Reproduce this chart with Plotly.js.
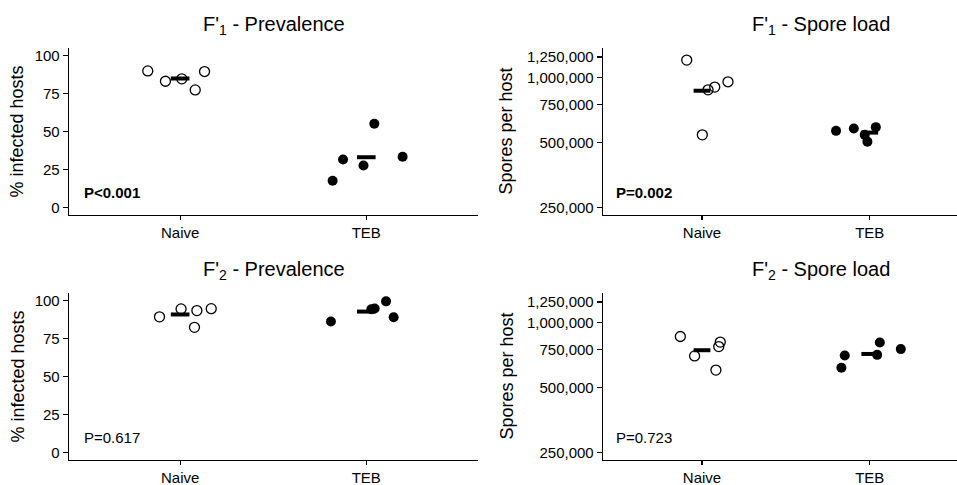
<!DOCTYPE html>
<html>
<head>
<meta charset="utf-8">
<script src="https://cdn.plot.ly/plotly-3.0.1.min.js"></script>
<style>html,body{margin:0;padding:0;background:#fff;}#chart{width:957px;height:485px;}</style>
</head>
<body>
<div id="chart"></div>
<script>
// ---- data ----
var categories = ["Naive", "TEB"];

var f1PrevNaive = [89.9, 83.1, 84.7, 77.4, 89.5];
var f1PrevTEB   = [17.6, 31.6, 27.6, 55.1, 33.4];
var f1SporeNaive = [1210000, 543000, 880000, 906000, 959000];
var f1SporeTEB   = [567000, 581000, 543000, 505000, 590000];
var f2PrevNaive = [89.3, 94.5, 93.4, 82.4, 94.7];
var f2PrevTEB   = [86.2, 94.3, 94.8, 99.5, 89.0];
var f2SporeNaive = [864000, 702000, 603000, 776000, 814000];
var f2SporeTEB   = [618000, 705000, 710000, 810000, 755000];

// horizontal jitter of each point (category units)
var jitF1PrevNaive = [-0.174, -0.079, 0.009, 0.081, 0.131];
var jitF1PrevTEB   = [-0.181, -0.125, -0.015, 0.043, 0.195];
var jitF1SporeNaive = [-0.091, 0.002, 0.036, 0.076, 0.155];
var jitF1SporeTEB   = [-0.201, -0.095, -0.030, -0.014, 0.036];
var jitF2PrevNaive = [-0.111, 0.005, 0.090, 0.077, 0.167];
var jitF2PrevTEB   = [-0.190, 0.027, 0.045, 0.106, 0.147];
var jitF2SporeNaive = [-0.129, -0.044, 0.083, 0.100, 0.109];
var jitF2SporeTEB   = [-0.169, -0.149, 0.044, 0.060, 0.185];

var panelTitles = ["F'<sub>1</sub> - Prevalence", "F'<sub>1</sub> - Spore load",
                   "F'<sub>2</sub> - Prevalence", "F'<sub>2</sub> - Spore load"];
var pValues = ["P<0.001", "P=0.002", "P=0.617", "P=0.723"];
var pBold = [true, true, false, false];
var prevTicks = [0, 25, 50, 75, 100];
var sporeTicks = [250000, 500000, 750000, 1000000, 1250000];
var sporeTickText = ["250,000", "500,000", "750,000", "1,000,000", "1,250,000"];

// ---- build ----
var FONT = "Liberation Sans, Arial, sans-serif";
var W = 957, H = 485;
function mean(a){ var s=0; a.forEach(function(v){s+=v;}); return s/a.length; }
function geoMean(a){ var s=0; a.forEach(function(v){s+=Math.log10(v);}); return Math.pow(10, s/a.length); }

var panels = [
  {naive:f1PrevNaive, teb:f1PrevTEB, jn:jitF1PrevNaive, jt:jitF1PrevTEB, log:false},
  {naive:f1SporeNaive, teb:f1SporeTEB, jn:jitF1SporeNaive, jt:jitF1SporeTEB, log:true},
  {naive:f2PrevNaive, teb:f2PrevTEB, jn:jitF2PrevNaive, jt:jitF2PrevTEB, log:false},
  {naive:f2SporeNaive, teb:f2SporeTEB, jn:jitF2SporeNaive, jt:jitF2SporeTEB, log:true}
];

var traces = [];
panels.forEach(function(p, i){
  var xa = i === 0 ? "x" : "x" + (i+1);
  var ya = i === 0 ? "y" : "y" + (i+1);
  traces.push({type:"scatter", mode:"markers", xaxis:xa, yaxis:ya, hoverinfo:"skip",
    x:p.jn.map(function(j){return 1+j;}), y:p.naive,
    marker:{symbol:"circle-open", size:10, color:"#000", line:{width:1.3, color:"#000"}}});
  traces.push({type:"scatter", mode:"markers", xaxis:xa, yaxis:ya, hoverinfo:"skip",
    x:p.jt.map(function(j){return 2+j;}), y:p.teb,
    marker:{symbol:"circle", size:10, color:"#000", line:{width:0}}});
  [p.naive, p.teb].forEach(function(vals, k){
    var m = p.log ? geoMean(vals) : mean(vals);
    var c = k + 1;
    traces.push({type:"scatter", mode:"lines", xaxis:xa, yaxis:ya, hoverinfo:"skip",
      x:[c-0.05, c+0.05], y:[m, m], line:{color:"#000", width:4}});
  });
});

function fx(px){ return px / W; }
function fy(py){ return 1 - py / H; }
var leftX = [fx(69), fx(478)];
var rightX = [fx(603), 1];
var topY = [fy(215), fy(48)];
var botY = [fy(460), fy(293)];

function xAxis(domain, range, anchor){
  return {domain:domain, range:range, anchor:anchor, tickvals:[1,2], ticktext:categories,
    showline:true, linecolor:"#000", linewidth:1.3, ticks:"outside", ticklen:4, tickwidth:1.2,
    tickcolor:"#000", showgrid:false, zeroline:false, fixedrange:true,
    tickfont:{family:FONT, size:15, color:"#000"}};
}
function yPrev(domain, anchor){
  return {domain:domain, range:[-5,105], anchor:anchor, tickvals:prevTicks,
    showline:true, linecolor:"#000", linewidth:1.3, ticks:"outside", ticklen:5, tickwidth:1.2,
    tickcolor:"#000", showgrid:false, zeroline:false, fixedrange:true,
    tickfont:{family:FONT, size:15, color:"#000"}};
}
function ySpore(domain, anchor){
  return {domain:domain, type:"log", range:[5.362, 6.139], anchor:anchor, tickvals:sporeTicks,
    ticktext:sporeTickText, showline:true, linecolor:"#000", linewidth:1.3, ticks:"outside",
    ticklen:5, tickwidth:1.2, tickcolor:"#000", showgrid:false, zeroline:false, fixedrange:true,
    tickfont:{family:FONT, size:15, color:"#000"}};
}

var annotations = [];
var titleCenters = [(69+478)/2/W, (603+1038)/2/W, (69+478)/2/W, (603+1038)/2/W];
var titleY = [fy(25), fy(25), fy(270), fy(270)];
panelTitles.forEach(function(t, i){
  annotations.push({text:t, xref:"paper", yref:"paper", x:titleCenters[i], y:titleY[i],
    xanchor:"center", yanchor:"middle", showarrow:false,
    font:{family:FONT, size:20, color:"#000"}});
});
var yTitles = ["% infected hosts", "Spores per host", "% infected hosts", "Spores per host"];
var yTitleX = [fx(17), fx(506), fx(17), fx(506)];
var yTitleY = [fy(131.5), fy(131.5), fy(376.5), fy(376.5)];
yTitles.forEach(function(t, i){
  annotations.push({text:t, xref:"paper", yref:"paper", x:yTitleX[i], y:yTitleY[i],
    xanchor:"center", yanchor:"middle", textangle:-90, showarrow:false,
    font:{family:FONT, size:18, color:"#000"}});
});
var pY = [10, Math.log10(294000), 10, Math.log10(294000)];
pValues.forEach(function(t, i){
  var xa = i === 0 ? "x" : "x" + (i+1);
  var ya = i === 0 ? "y" : "y" + (i+1);
  annotations.push({text: pBold[i] ? "<b>"+t+"</b>" : t, xref:xa, yref:ya, x:0.475, y:pY[i],
    xanchor:"left", yanchor:"middle", showarrow:false,
    font:{family:FONT, size:15, color:"#000"}});
});

var layout = {
  width:W, height:H, margin:{l:0, r:0, t:0, b:0}, showlegend:false,
  paper_bgcolor:"#fff", plot_bgcolor:"#fff",
  xaxis: xAxis(leftX, [0.403, 2.6], "y"),
  yaxis: yPrev(topY, "x"),
  xaxis2: xAxis(rightX, [0.41, 2.52], "y2"),
  yaxis2: ySpore(topY, "x2"),
  xaxis3: xAxis(leftX, [0.403, 2.6], "y3"),
  yaxis3: yPrev(botY, "x3"),
  xaxis4: xAxis(rightX, [0.41, 2.52], "y4"),
  yaxis4: ySpore(botY, "x4"),
  annotations: annotations
};

Plotly.newPlot("chart", traces, layout, {displayModeBar:false, staticPlot:true});
</script>
</body>
</html>
